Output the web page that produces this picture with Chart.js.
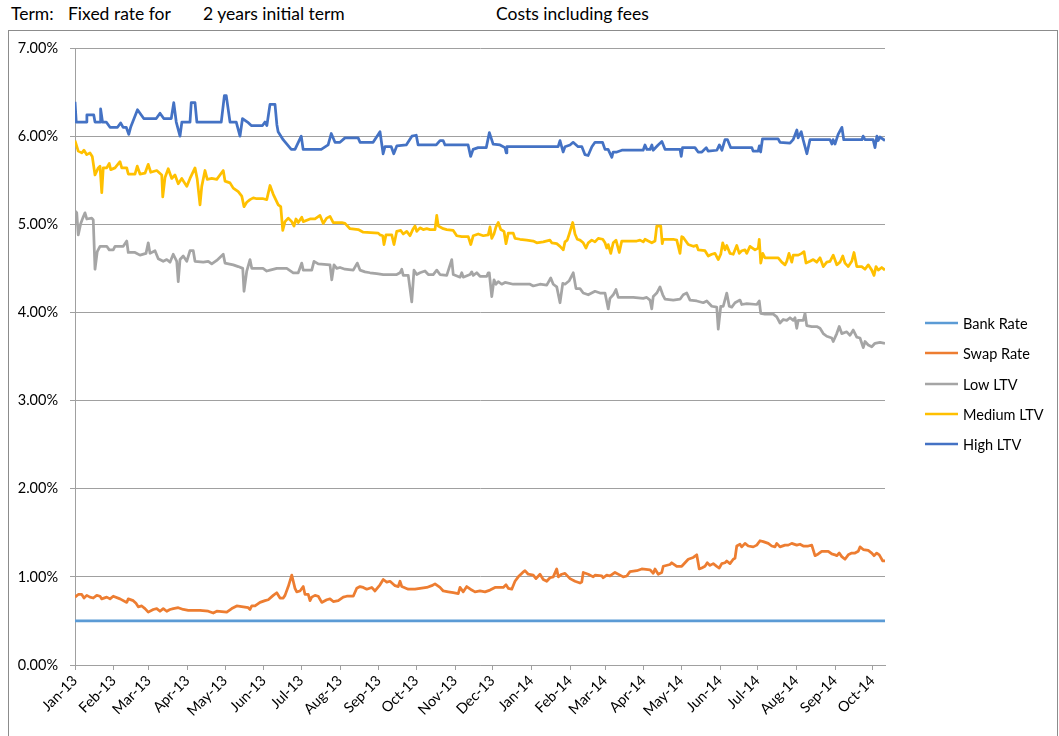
<!DOCTYPE html>
<html>
<head>
<meta charset="utf-8">
<script src="https://cdn.jsdelivr.net/npm/chart.js@4.4.1/dist/chart.umd.min.js"></script>
<style>
  html, body { margin: 0; padding: 0; background: #fff; overflow: hidden; }
  #wrap { position: relative; width: 1059px; height: 736px; font-family: Lato, sans-serif; }
  #frame { position: absolute; left: 8px; top: 30px; width: 1050px; height: 720px; border: 1px solid #8c8c8c; box-sizing: border-box; }
  .hdr { position: absolute; top: 3px; font-size: 17.5px; color: #000; white-space: nowrap; }
  canvas { position: absolute; left: 0; top: 0; }
</style>
</head>
<body>
<div id="wrap">
  <div class="hdr" style="left:11px">Term:</div>
  <div class="hdr" style="left:68px">Fixed rate for</div>
  <div class="hdr" style="left:203px">2 years initial term</div>
  <div class="hdr" style="left:496px">Costs including fees</div>
  <div id="frame"></div>
  <canvas id="chart" width="1059" height="736"></canvas>
</div>
<script>
// x = days since 1 Jan 2013, y = rate in %
const monthLabels = ["Jan-13","Feb-13","Mar-13","Apr-13","May-13","Jun-13","Jul-13","Aug-13","Sep-13","Oct-13","Nov-13","Dec-13",
  "Jan-14","Feb-14","Mar-14","Apr-14","May-14","Jun-14","Jul-14","Aug-14","Sep-14","Oct-14"];
const monthStarts = [0,31,59,90,120,151,181,212,243,273,304,334,365,396,424,455,485,516,546,577,608,638];
const yTicks = [0,1,2,3,4,5,6,7];

const bankRate = [[0,0.5],[648,0.5]];

const swapRate = [[0,0.77],[2.6,0.80],[5.4,0.80],[7.2,0.76],[9.4,0.79],[12,0.77],[14.6,0.76],[17.4,0.79],[20,0.78],[21.4,0.75],
  [25.4,0.77],[28,0.75],[30.6,0.78],[36,0.75],[41.4,0.71],[42.6,0.75],[46.6,0.73],[48.8,0.70],[50.6,0.66],[53.4,0.67],[56,0.64],
  [58.6,0.60],[62.6,0.63],[65.4,0.64],[68,0.61],[70.6,0.64],[73.4,0.61],[76,0.63],[78.6,0.64],[82.6,0.65],[86.6,0.63],[90.6,0.62],
  [100,0.62],[106.6,0.61],[110.6,0.59],[113.4,0.61],[121.4,0.60],[125.4,0.64],[129.4,0.67],[134.6,0.66],[138.6,0.65],[140,0.63],
  [141.4,0.67],[144,0.67],[148,0.71],[152,0.73],[154.6,0.74],[158.6,0.79],[161.4,0.82],[164,0.76],[166.6,0.76],[168,0.79],
  [170.6,0.89],[173.4,1.02],[176,0.87],[177.4,0.83],[180,0.84],[182.6,0.89],[184,0.80],[186.6,0.80],[188,0.73],[189.4,0.77],
  [192,0.79],[194.6,0.78],[197.4,0.71],[201.4,0.74],[204,0.75],[206.6,0.72],[210.6,0.73],[214.6,0.77],[217.4,0.78],[222.6,0.78],
  [225.4,0.87],[228,0.89],[230.6,0.88],[233.4,0.86],[237.4,0.88],[240,0.84],[244,0.91],[246.6,0.97],[249.4,0.94],[252,0.95],
  [256,0.90],[258.6,0.89],[260,0.95],[261.4,0.89],[266.6,0.86],[272,0.86],[276,0.87],[281.4,0.88],[285.4,0.90],[288,0.92],
  [292,0.88],[294.6,0.84],[298.6,0.83],[302.6,0.82],[306.6,0.81],[308,0.88],[310.6,0.83],[313.4,0.89],[317.4,0.85],[320,0.83],
  [324,0.84],[328,0.83],[332,0.85],[336,0.88],[342.6,0.88],[344.8,0.91],[346.6,0.87],[349.4,0.86],[352,0.95],[354.6,1.00],
  [358.2,1.05],[360,1.07],[362.6,1.03],[366.6,1.02],[368.8,0.98],[372,1.03],[374.6,0.97],[377.4,0.95],[380,0.99],[382.6,1.00],
  [385.4,1.09],[386.6,1.00],[389.4,1.03],[392,1.04],[396,0.98],[400,0.95],[404,0.93],[405.4,0.94],[406.6,1.05],[410.6,1.03],
  [414.6,1.00],[416,1.02],[421.4,1.01],[422.6,0.99],[425.4,1.02],[428,1.01],[432,1.05],[436,1.02],[438.6,1.00],[441.4,1.01],
  [444,1.06],[449.4,1.07],[453.4,1.09],[460,1.08],[462.6,1.04],[464,1.09],[466.6,1.03],[469.4,1.05],[470.6,1.12],[476,1.14],
  [477.4,1.16],[481.4,1.12],[485.4,1.12],[488,1.16],[490.6,1.20],[494.6,1.22],[497.4,1.25],[499.4,1.09],[501.4,1.10],[504,1.12],
  [505.8,1.16],[508,1.13],[510.6,1.15],[513.4,1.12],[515.4,1.10],[517.4,1.15],[520,1.16],[521.4,1.18],[524,1.15],[526.6,1.20],
  [528,1.21],[529.4,1.35],[532,1.37],[533.4,1.34],[536,1.38],[538.6,1.35],[542.6,1.34],[545.4,1.36],[548,1.41],[550.6,1.40],
  [554.6,1.38],[557.4,1.35],[560,1.34],[561.4,1.38],[564,1.34],[568,1.36],[570.6,1.36],[573.4,1.38],[577.4,1.36],[580,1.37],
  [582.6,1.35],[586.6,1.35],[589.4,1.36],[592,1.24],[594.6,1.26],[597.4,1.29],[602.6,1.29],[605.4,1.26],[608,1.25],[609.4,1.24],
  [611.4,1.27],[613.4,1.23],[616,1.20],[618.6,1.25],[621.4,1.27],[624,1.27],[626.6,1.29],[628,1.34],[630.6,1.31],[634.6,1.30],
  [637.4,1.27],[639.2,1.24],[641.4,1.27],[643.4,1.25],[646.2,1.18],[648,1.18]];

const lowLtv = [[0,5.15],[1.4,5.13],[2.6,4.88],[4.6,5.01],[6.2,5.07],[8,5.13],[9.4,5.06],[13.4,5.07],[14.6,5.05],[16,4.49],
  [17.8,4.69],[20,4.75],[25.4,4.75],[27.4,4.71],[30.6,4.71],[32,4.75],[38.6,4.75],[41.4,4.81],[42.6,4.68],[48,4.68],[52,4.65],
  [56.8,4.67],[58.6,4.79],[60,4.67],[64,4.70],[66.6,4.61],[70.6,4.58],[73.4,4.60],[76,4.57],[78.6,4.66],[81.4,4.58],[82.6,4.35],
  [84,4.60],[86.6,4.64],[89.4,4.58],[92,4.70],[94.6,4.70],[96,4.58],[102.6,4.57],[106.6,4.58],[109.4,4.55],[113.4,4.59],
  [118.6,4.66],[120,4.56],[126.6,4.54],[130.6,4.52],[134.2,4.50],[135.2,4.24],[137.4,4.47],[140,4.60],[141.4,4.50],[150.4,4.50],
  [153.4,4.47],[156,4.48],[161.4,4.50],[164,4.50],[169.4,4.50],[174.6,4.45],[178.6,4.45],[181.4,4.56],[182.6,4.48],[189.4,4.48],
  [191.2,4.58],[194.6,4.55],[204,4.54],[205.4,4.37],[207.2,4.54],[209.4,4.50],[212,4.51],[216,4.49],[222.6,4.48],[225.8,4.56],
  [228,4.48],[232,4.46],[236,4.45],[241.4,4.44],[246.6,4.43],[257.4,4.43],[260,4.45],[261.4,4.49],[262.6,4.42],[266.6,4.42],
  [269.4,4.12],[271.2,4.48],[273.4,4.43],[276,4.45],[280,4.47],[282.6,4.43],[286.6,4.43],[289.4,4.48],[292,4.43],[297.4,4.42],
  [301.4,4.60],[302.6,4.43],[308,4.40],[309.4,4.45],[310.6,4.40],[316,4.43],[317.4,4.46],[318.6,4.42],[321.4,4.45],[324,4.41],
  [329.4,4.41],[330.6,4.45],[331.4,4.45],[333.4,4.18],[335.2,4.37],[336.8,4.32],[338.6,4.35],[341.4,4.32],[344,4.34],[350.6,4.32],
  [364,4.32],[366.6,4.30],[372,4.32],[377.4,4.31],[380.6,4.39],[382.6,4.32],[385.4,4.29],[388,4.11],[390.2,4.33],[392,4.32],
  [395.4,4.36],[398.6,4.45],[400.8,4.27],[404,4.27],[406.6,4.22],[410.6,4.20],[416,4.24],[420,4.22],[424,4.22],[426.6,4.04],
  [428,4.16],[430.6,4.20],[432.8,4.26],[434.6,4.17],[438.6,4.17],[446.6,4.17],[454.6,4.16],[457.4,4.17],[460,4.14],[461.4,4.04],
  [462.6,4.18],[465.4,4.22],[468,4.29],[470.2,4.20],[472,4.15],[478.6,4.14],[484,4.15],[486.6,4.20],[489.4,4.22],[492,4.14],
  [497.4,4.13],[502.6,4.11],[505.4,4.13],[509.4,4.07],[513.4,4.06],[514.6,3.81],[516.6,4.07],[518.6,4.07],[521.4,4.22],
  [523.4,4.07],[525.4,4.06],[528,4.11],[532,4.14],[533.4,4.09],[537.4,4.10],[545.4,4.09],[547.4,4.13],[548.6,3.99],[552,3.98],
  [558.6,3.98],[561.4,3.95],[564,3.88],[566.6,3.92],[569.4,3.91],[572,3.94],[574.6,3.91],[576,3.94],[577.4,3.82],[578.6,3.91],
  [582.6,3.91],[584,3.99],[585.4,3.85],[589.4,3.84],[593.4,3.84],[596,3.82],[598.6,3.76],[601.4,3.73],[605.4,3.71],[606.6,3.67],
  [609.4,3.76],[611.4,3.84],[613.4,3.76],[617.4,3.78],[620,3.74],[622.6,3.80],[625.4,3.72],[628,3.71],[630.6,3.60],[632,3.67],
  [634.6,3.63],[637.4,3.61],[640,3.65],[644,3.66],[648,3.65]];

const mediumLtv = [[0,5.95],[2.6,5.83],[5.4,5.81],[7.2,5.84],[9.4,5.79],[12,5.81],[13.8,5.77],[16,5.56],[18.6,5.64],[20,5.66],
  [21.4,5.36],[22.6,5.64],[25.4,5.64],[27.4,5.69],[28.6,5.62],[32,5.64],[36,5.71],[37.4,5.64],[41.4,5.64],[42.6,5.57],[48,5.57],
  [49.8,5.66],[52,5.57],[56,5.58],[58.6,5.68],[60.6,5.59],[65.4,5.61],[69.4,5.56],[70.2,5.31],[72,5.53],[74.6,5.63],[77.4,5.52],
  [80,5.56],[82.6,5.46],[85.4,5.52],[89.4,5.43],[92,5.52],[96,5.64],[97.8,5.51],[100,5.22],[101.4,5.43],[104,5.61],[105.8,5.51],
  [109.4,5.52],[113.4,5.51],[118.6,5.61],[120,5.49],[124,5.47],[126.6,5.41],[130.6,5.37],[133.4,5.32],[135.2,5.20],[137.4,5.25],
  [140,5.28],[142.6,5.30],[145.4,5.29],[150.6,5.29],[153.4,5.28],[156,5.44],[158.6,5.34],[162.6,5.22],[164.6,5.20],[166.2,4.93],
  [168,5.03],[170.6,5.07],[173.4,5.03],[175.2,4.98],[176.8,5.06],[178.6,5.02],[181.4,5.08],[182.6,5.03],[188,5.06],[192,5.06],
  [196,5.10],[198.6,5.01],[201.4,5.07],[204,5.09],[206.6,5.02],[213.4,5.02],[216,5.01],[220,4.95],[226.6,4.94],[230.6,4.91],
  [242.6,4.90],[244,4.88],[246.2,4.87],[247.2,4.77],[248.8,4.88],[253.4,4.88],[255.2,4.77],[257.4,4.92],[260.6,4.93],[262.6,4.89],
  [265.4,4.92],[268,4.87],[270.2,4.94],[272,4.98],[273.4,4.92],[276,4.96],[278.6,4.94],[281.4,4.95],[284,4.94],[288,4.94],
  [289.4,5.10],[290.6,4.98],[294.6,4.95],[297.4,4.94],[302.6,4.93],[305.4,4.87],[309.4,4.86],[314.6,4.86],[316.6,4.77],[318.6,4.87],
  [322.6,4.89],[326.6,4.87],[330.6,4.88],[332,4.97],[333.4,4.84],[335.2,4.89],[336.8,4.97],[338.6,5.02],[340.6,4.94],[343.2,4.92],
  [344.8,4.78],[346.6,4.90],[350.6,4.90],[352,4.84],[356,4.83],[361.4,4.82],[366.6,4.81],[369.4,4.79],[374.6,4.80],[380,4.82],
  [381.4,4.79],[385.4,4.78],[388,4.75],[390.6,4.71],[392,4.80],[393.8,4.82],[395.4,4.89],[398.2,5.02],[400,4.89],[401.8,4.83],
  [404,4.82],[406.6,4.79],[408.8,4.73],[410.6,4.79],[413.4,4.82],[416,4.80],[418.6,4.84],[422.2,4.83],[424,4.79],[425.4,4.73],
  [426.6,4.77],[428.6,4.67],[430.6,4.79],[432.8,4.82],[435.4,4.68],[437.4,4.81],[449.4,4.81],[452,4.82],[454.6,4.80],[456,4.83],
  [458.6,4.81],[461.4,4.79],[464,4.81],[465.4,4.98],[468.6,4.98],[469.8,4.78],[470.6,4.83],[478.6,4.83],[481.4,4.82],[484,4.67],
  [485.4,4.86],[486.6,4.85],[490.6,4.77],[494.6,4.75],[497.4,4.76],[498.6,4.71],[504,4.70],[506.6,4.64],[509.4,4.66],[512,4.67],
  [514.6,4.60],[516.6,4.66],[518.2,4.79],[520,4.71],[521.4,4.76],[524,4.67],[526.6,4.66],[529.4,4.76],[531.4,4.67],[533.4,4.70],
  [536,4.71],[537.4,4.67],[540,4.75],[544,4.71],[546.6,4.73],[547.4,4.83],[548.6,4.56],[550.2,4.67],[552,4.62],[562.6,4.62],
  [565.4,4.57],[568,4.54],[569.4,4.58],[571.2,4.67],[573.4,4.57],[574.6,4.65],[578.6,4.65],[581.4,4.67],[583.2,4.69],[584.8,4.56],
  [588,4.58],[590.6,4.60],[593.4,4.57],[596,4.62],[598.6,4.52],[601.4,4.57],[604,4.58],[606.6,4.65],[609.4,4.54],[612,4.57],
  [614.2,4.64],[616,4.56],[618.6,4.52],[621.4,4.58],[623.2,4.68],[625.4,4.52],[629.4,4.52],[632,4.49],[634.6,4.54],[637.4,4.48],
  [639.2,4.42],[640.8,4.52],[642.6,4.48],[645.4,4.51],[648,4.48]];

const highLtv = [[0,6.39],[1,6.16],[9,6.16],[9.5,6.24],[15,6.24],[16,6.16],[20,6.16],[20.5,6.31],[22,6.16],[25,6.16],[28,6.10],
  [34,6.10],[36.5,6.15],[38.5,6.10],[41,6.10],[43,6.02],[44.5,6.10],[50,6.30],[55,6.20],[65,6.20],[68,6.26],[71,6.20],[77,6.20],
  [79,6.38],[81,6.16],[84,6.00],[85.5,6.16],[92,6.16],[93,6.38],[96,6.38],[97.5,6.16],[117,6.16],[119.5,6.46],[121,6.46],
  [124,6.16],[129,6.16],[132,6.00],[134,6.20],[138,6.16],[141,6.12],[150,6.12],[152,6.16],[153.5,6.12],[156,6.36],[160,6.36],
  [161.5,6.13],[162.5,6.05],[166.5,5.96],[173,5.85],[176,5.85],[181,6.00],[182.5,5.85],[197,5.85],[202.5,5.90],[205,6.03],
  [208,5.93],[212,5.93],[216,5.98],[226.5,5.98],[228,5.93],[238.5,5.93],[244,6.05],[246.5,5.80],[248,5.88],[253,5.88],[255,5.80],
  [257.5,5.89],[265,5.90],[269.5,6.00],[273,6.01],[274.5,5.90],[289,5.90],[292,5.95],[294.5,5.95],[296,5.90],[314.5,5.90],
  [316.5,5.77],[318.5,5.85],[322.5,5.87],[329,5.87],[331.5,6.04],[334.5,5.91],[340,5.90],[344,5.87],[345,5.81],[345.5,5.88],
  [386.5,5.88],[388,5.95],[390.5,5.82],[392,5.88],[396,5.90],[398.5,5.93],[402.5,5.88],[405.5,5.88],[408,5.79],[410.5,5.78],
  [413.5,5.88],[416,5.93],[422,5.93],[424,5.85],[426.5,5.85],[429.5,5.76],[430.5,5.82],[433.5,5.82],[437.5,5.84],[454.5,5.84],
  [456,5.90],[457.5,5.85],[460,5.85],[461.5,5.90],[462.5,5.84],[466.5,5.90],[469.5,5.94],[472,5.85],[484,5.85],[485,5.77],
  [486,5.87],[496,5.87],[498.5,5.82],[501.5,5.82],[505,5.87],[506.5,5.83],[513.5,5.84],[515.5,5.90],[517.5,5.84],[520,5.96],
  [522,5.96],[524.5,5.87],[541.5,5.87],[542.5,5.83],[546.5,5.83],[547.5,5.89],[548.5,5.82],[550,5.97],[562.5,5.97],[564,5.93],
  [572,5.92],[574.5,5.96],[577.5,6.07],[578.5,5.98],[581,6.05],[582.5,5.96],[585.5,5.80],[588,5.96],[604,5.96],[605.5,5.91],
  [606.5,5.96],[608,5.91],[610.5,6.02],[613.5,6.10],[615,5.96],[629.5,5.96],[630.5,6.00],[632,5.96],[638.5,5.96],[640,5.87],
  [641.5,6.00],[642.5,5.95],[644,5.99],[648,5.95]];

const seriesNames = ["Bank Rate", "Swap Rate", "Low LTV", "Medium LTV", "High LTV"];
const seriesColors = ["#5B9BD5", "#ED7D31", "#A5A5A5", "#FFC000", "#4472C4"];
const seriesData = [bankRate, swapRate, lowLtv, mediumLtv, highLtv];

const toPoints = (arr) => arr.map(([x, y]) => ({ x, y }));

// Excel-style legend on the right
const sideLegend = {
  id: "sideLegend",
  afterDraw(chart) {
    const ctx = chart.ctx;
    const rows = [323, 353, 384, 414, 444];
    ctx.save();
    ctx.font = "14.5px Lato, sans-serif";
    ctx.textBaseline = "middle";
    chart.data.datasets.forEach((ds, i) => {
      const y = rows[i];
      ctx.strokeStyle = ds.borderColor;
      ctx.lineWidth = 2.5;
      ctx.beginPath();
      ctx.moveTo(925, y);
      ctx.lineTo(958, y);
      ctx.stroke();
      ctx.fillStyle = "#000";
      ctx.fillText(ds.label, 963, y + 1);
    });
    ctx.restore();
  }
};

const ctx = document.getElementById("chart").getContext("2d");
new Chart(ctx, {
  type: "line",
  data: {
    datasets: seriesData.map((d, i) => ({
      label: seriesNames[i],
      data: toPoints(d),
      borderColor: seriesColors[i],
      backgroundColor: seriesColors[i],
      borderWidth: 2.75,
      borderJoinStyle: "round",
      pointRadius: 0,
      tension: 0,
      fill: false,
    })),
  },
  options: {
    responsive: false,
    animation: false,
    devicePixelRatio: 1,
    layout: { padding: { left: 0, top: 48, right: 174, bottom: 0 } },
    plugins: { legend: { display: false }, tooltip: { enabled: false } },
    scales: {
      x: {
        type: "linear",
        min: 0,
        max: 648,
        afterBuildTicks: (axis) => { axis.ticks = monthStarts.map((v) => ({ value: v })); },
        afterFit: (axis) => { axis.height = 71; },
        ticks: {
          autoSkip: false,
          maxRotation: 45,
          minRotation: 45,
          padding: 2,
          color: "#000",
          font: { family: "Lato", size: 14.5 },
          callback: (v, i) => monthLabels[i],
        },
        grid: { drawOnChartArea: false, drawTicks: true, tickLength: 5, color: "#a0a0a0" },
        border: { color: "#a0a0a0", width: 1 },
      },
      y: {
        min: 0,
        max: 7,
        afterBuildTicks: (axis) => { axis.ticks = yTicks.map((v) => ({ value: v })); },
        afterFit: (axis) => { axis.width = 75; },
        ticks: {
          padding: 12,
          color: "#000",
          font: { family: "Lato", size: 14.5 },
          callback: (v) => v.toFixed(2) + "%",
        },
        grid: { color: "#a0a0a0", lineWidth: 1, tickLength: 5 },
        border: { color: "#a0a0a0", width: 1 },
      },
    },
  },
  plugins: [sideLegend],
});
</script>
</body>
</html>
